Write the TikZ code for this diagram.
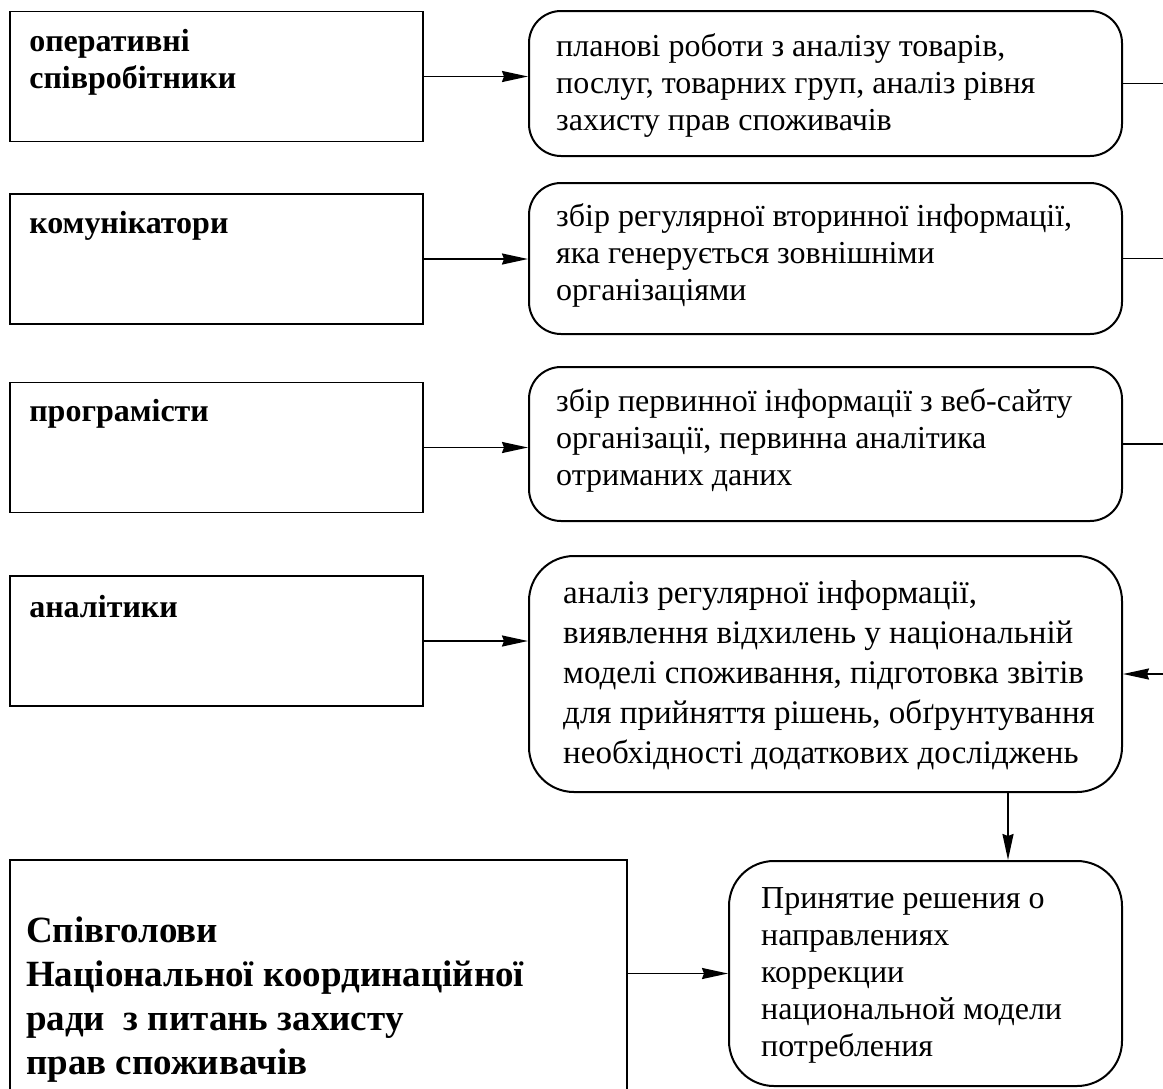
\documentclass[tikz,border=0pt]{standalone}
\usepackage{fontspec}
\setmainfont{Liberation Serif}
\usetikzlibrary{arrows.meta,positioning,calc}

\begin{document}
\begin{tikzpicture}[x=1pt,y=-1pt,
    lbox/.style={draw, line width=1.8pt, minimum width=413pt, minimum height=130pt, inner sep=0pt},
    ltext/.style={anchor=base west, align=left, inner sep=0pt, font=\fontsize{32}{37}\selectfont\bfseries},
    rbox/.style={draw, line width=2pt, rounded corners=32pt, inner sep=0pt, minimum width=593pt, minimum height=145pt},
    rtext/.style={anchor=west, align=left, inner sep=0pt, font=\fontsize{32}{37}\selectfont},
    arr/.style={-{Stealth[length=26pt,width=11pt,inset=2pt]}, line width=1.8pt},
    link/.style={line width=1.8pt}]
    \clip (0,0) rectangle (1163,1088);
    \coordinate (edge) at (1163,0);

    % Staff boxes
    \node[lbox] (oper) at (216.5,76.5) {};
    \node[lbox] (komun) at (216.5,259) {};
    \node[lbox] (prog) at (216.5,447.5) {};
    \node[lbox] (anal) at (216.5,641) {};
    \node[ltext] (oper-t) at ($(oper.north west)+(20,78)$) {оперативні\\співробітники};
    \node[ltext] (komun-t) at ($(komun.north west)+(20,40)$) {комунікатори};
    \node[ltext] (prog-t) at ($(prog.north west)+(20,40)$) {програмісти};
    \node[ltext] (anal-t) at ($(anal.north west)+(20,42)$) {аналітики};

    % Co-chairs
    \node[lbox, minimum width=617pt, minimum height=250pt] (chair) at (318.5,985) {};
    \node[ltext, font=\fontsize{37}{44}\selectfont\bfseries] (chair-t) at (26,1074)
      {Співголови\\Національної координаційної\\ради\ \ з питань захисту\\прав споживачів};

    % Tasks
    \node[rbox] (work1) at (825.5,83.5) {};
    \node[rbox, minimum height=151pt] (work2) at (825.5,258.5) {};
    \node[rbox, minimum height=154pt] (work3) at (825.5,444) {};
    \node[rbox, minimum height=236pt, rounded corners=45pt] (work4) at (825.5,674) {};
    \node[rbox, minimum width=393pt, minimum height=225pt, rounded corners=45pt] (decide) at (925.5,973.5) {};
    \node[rtext] (work1-t) at ($(work1.west)+(28,2)$)
      {планові роботи з аналізу товарів,\\послуг, товарних груп, аналіз рівня\\захисту прав споживачів};
    \node[rtext] (work2-t) at ($(work2.west)+(28,-3)$)
      {збір регулярної вторинної інформації,\\яка генерується зовнішніми\\організаціями};
    \node[rtext] (work3-t) at ($(work3.west)+(28,-4)$)
      {збір первинної інформації з веб-сайту\\організації, первинна аналітика\\отриманих даних};
    \node[rtext, font=\fontsize{33}{40}\selectfont] (work4-t) at ($(work4.west)+(35,1)$)
      {аналіз регулярної інформації,\\виявлення відхилень у національній\\моделі споживання, підготовка звітів\\для прийняття рішень, обґрунтування\\необхідності додаткових досліджень};
    \node[rtext] (decide-t) at ($(decide.west)+(33,2)$)
      {Принятие решения о\\направлениях\\коррекции\\национальной модели\\потребления};

    % Arrows
    \draw[arr] (oper.east) -- (oper.east -| work1.west);
    \draw[arr] (komun.east) -- (komun.east -| work2.west);
    \draw[arr] (prog.east) -- (prog.east -| work3.west);
    \draw[arr] (anal.east) -- (anal.east -| work4.west);
    \draw[arr] (decide.west -| chair.east) -- (decide.west);
    \draw[arr] ([xshift=-115pt]work4.south east) -- ([xshift=-115pt]decide.north east);
    \draw[arr] (work4.east -| edge) -- (work4.east);

    % Outgoing lines
    \draw[link] (work1.east) -- (work1.east -| edge);
    \draw[link] (work2.east) -- (work2.east -| edge);
    \draw[link] (work3.east) -- (work3.east -| edge);
  \end{tikzpicture}
\end{document}
